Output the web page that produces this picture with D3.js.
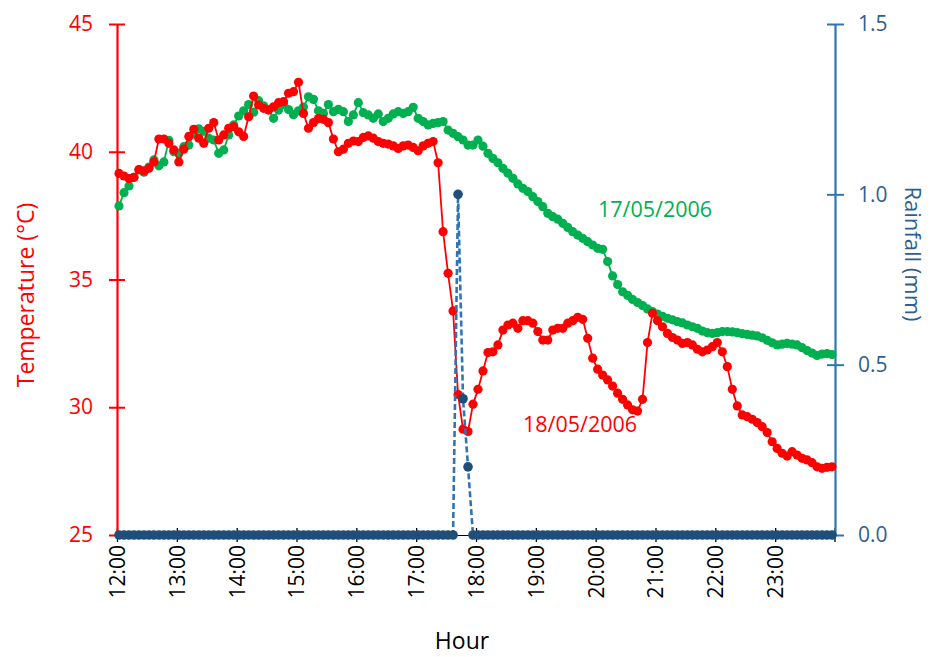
<!DOCTYPE html>
<html>
<head>
<meta charset="utf-8">
<script src="https://cdn.jsdelivr.net/npm/d3@7"></script>
<style>
  html, body { margin: 0; padding: 0; background: #fff; }
  svg { display: block; font-family: "Open Sans", "DejaVu Sans", sans-serif; }
</style>
</head>
<body>
<svg id="chart" width="930" height="657"></svg>
<script>
// Readings every 5 minutes, first reading at 12:02
const firstReadingMinute = 12 * 60 + 2;
const readingStepMinutes = 5;

const hourLabels = ["12:00","13:00","14:00","15:00","16:00","17:00","18:00","19:00","20:00","21:00","22:00","23:00"];
const tempTicks = [25, 30, 35, 40, 45];
const rainTicks = [0.0, 0.5, 1.0, 1.5];

// Air temperature, 17 May 2006 (°C)
const temp17 = [
  37.88, 38.40, 38.66, 39.00, 39.30, 39.20, 39.40, 39.68, 39.45, 39.60,
  40.45, 40.00, 39.94, 40.20, 40.26, 40.70, 40.90, 40.80, 40.53, 40.46,
  39.94, 40.07, 40.66, 41.05, 41.40, 41.60, 41.85, 41.55, 42.00, 41.80,
  41.65, 41.31, 41.63, 41.85, 41.65, 41.45, 41.60, 41.75, 42.15, 42.05,
  41.60, 41.50, 41.85, 41.57, 41.66, 41.57, 41.18, 41.44, 41.92, 41.53,
  41.44, 41.31, 41.48, 41.18, 41.31, 41.48, 41.57, 41.50, 41.57, 41.74,
  41.31, 41.18, 41.05, 41.11, 41.14, 41.18, 40.85, 40.72, 40.59, 40.46,
  40.26, 40.26, 40.46, 40.22, 39.94, 39.74, 39.57, 39.35, 39.16, 38.96,
  38.74, 38.57, 38.44, 38.24, 38.05, 37.85, 37.59, 37.46, 37.36, 37.20,
  37.04, 36.87, 36.74, 36.61, 36.48, 36.35, 36.22, 36.18, 35.70, 35.14,
  34.80, 34.52, 34.38, 34.22, 34.10, 33.98, 33.85, 33.74, 33.65, 33.56,
  33.48, 33.42, 33.35, 33.30, 33.22, 33.15, 33.09, 32.98, 32.92, 32.89,
  32.92, 32.96, 32.96, 32.95, 32.92, 32.88, 32.85, 32.82, 32.79, 32.72,
  32.62, 32.52, 32.44, 32.47, 32.50, 32.47, 32.44, 32.33, 32.22, 32.12,
  32.03, 32.08, 32.10, 32.06
];

// Air temperature, 18 May 2006 (°C)
const temp18 = [
  39.15, 39.05, 38.95, 39.00, 39.30, 39.25, 39.35, 39.60,
  40.50, 40.50, 40.33, 40.07, 39.60, 40.10, 40.60, 40.88, 40.53, 40.33,
  40.92, 41.14, 40.46, 40.66, 40.92, 40.98, 40.78, 40.60, 41.37, 42.18,
  41.83, 41.70, 41.63, 41.76, 41.92, 41.96, 42.29, 42.35, 42.72,
  41.50, 40.92, 41.14, 41.30, 41.27, 41.14, 40.50, 40.00, 40.10, 40.33,
  40.42, 40.40, 40.56, 40.62, 40.53, 40.40, 40.33, 40.30, 40.23, 40.13,
  40.23, 40.26, 40.17, 40.04, 40.23, 40.33, 40.40, 39.57, 36.87, 35.24,
  33.77, 30.50, 29.14, 29.05, 30.12, 30.70, 31.42, 32.14, 32.17, 32.44,
  33.02, 33.22, 33.29, 33.09, 33.39, 33.39, 33.29, 32.96, 32.63, 32.63,
  33.02, 33.09, 33.09, 33.29, 33.39, 33.52, 33.44, 32.70, 31.92, 31.49,
  31.26, 31.07, 30.83, 30.55, 30.31, 30.09, 29.90, 29.85, 30.31, 32.53,
  33.68,
  33.39, 33.15, 32.89, 32.73, 32.63, 32.50, 32.53, 32.44, 32.27, 32.17,
  32.24, 32.37, 32.53, 32.17, 31.59, 30.70, 30.05, 29.70, 29.63, 29.53,
  29.40, 29.24, 29.01, 28.65, 28.39, 28.20, 28.09, 28.26, 28.13, 28.00,
  27.94, 27.83, 27.67, 27.61, 27.65, 27.67
];

// Rainfall, 18 May 2006 (mm per 5 minutes), one row per hour
const rain18 = [
  0,0,0,0,0,0,0,0,0,0,0,0,
  0,0,0,0,0,0,0,0,0,0,0,0,
  0,0,0,0,0,0,0,0,0,0,0,0,
  0,0,0,0,0,0,0,0,0,0,0,0,
  0,0,0,0,0,0,0,0,0,0,0,0,
  0,0,0,0,0,0,0,0,1.0,0.4,0.2,0,
  0,0,0,0,0,0,0,0,0,0,0,0,
  0,0,0,0,0,0,0,0,0,0,0,0,
  0,0,0,0,0,0,0,0,0,0,0,0,
  0,0,0,0,0,0,0,0,0,0,0,0,
  0,0,0,0,0,0,0,0,0,0,0,0,
  0,0,0,0,0,0,0,0,0,0,0,0
];

const readingMinutes = temp18.map((_, i) => firstReadingMinute + i * readingStepMinutes);

const svg = d3.select("#chart");
const plotLeft = 117, plotRight = 835, plotTop = 24, plotBottom = 535;

const x = d3.scaleLinear().domain([12 * 60, 24 * 60]).range([plotLeft, plotRight]);
const yT = d3.scaleLinear().domain([25, 45]).range([plotBottom, plotTop]);
const yR = d3.scaleLinear().domain([0, 1.5]).range([plotBottom, plotTop]);

const RED = "#ff0000", GREEN = "#00b050", BLUE = "#2e75b6", NAVY = "#1f4e79";
const TEXT_BLUE = "#2f5f8f";

// X axis: hour ticks, labels rotated
const xAxis = d3.axisBottom(x)
  .tickValues(hourLabels.map(h => +h.split(":")[0] * 60))
  .tickFormat((d, i) => hourLabels[i])
  .tickSizeInner(6).tickSizeOuter(0);
const gx = svg.append("g").attr("transform", `translate(0,${plotBottom})`).call(xAxis);
gx.select(".domain").attr("stroke", "#000").attr("stroke-width", 1.2);
gx.selectAll(".tick line").attr("stroke", "#000").attr("stroke-width", 1.3).attr("y1", -7).attr("y2", 7);
gx.selectAll(".tick text")
  .attr("transform", "rotate(-90)")
  .attr("x", -10).attr("y", 0).attr("dy", "0.35em")
  .attr("text-anchor", "end")
  .attr("font-size", 21).attr("font-family", "Open Sans").attr("fill", "#000");
// closing tick at 24:00
gx.append("line").attr("x1", x(24 * 60)).attr("x2", x(24 * 60)).attr("y1", -7).attr("y2", 7)
  .attr("stroke", "#000").attr("stroke-width", 1.3);

// Left axis: temperature
const yAxisL = d3.axisLeft(yT).tickValues(tempTicks).tickSizeInner(8).tickSizeOuter(0).tickFormat(d3.format("d"));
const gl = svg.append("g").attr("transform", `translate(${plotLeft},0)`).call(yAxisL);
gl.select(".domain").attr("stroke", RED).attr("stroke-width", 2.2);
gl.selectAll(".tick line").attr("stroke", RED).attr("stroke-width", 2).attr("x1", 8).attr("x2", -8);
gl.selectAll(".tick text").attr("x", -24).attr("font-size", 21).attr("font-family", "Open Sans").attr("fill", RED);

// Right axis: rainfall
const yAxisR = d3.axisRight(yR).tickValues(rainTicks).tickSizeInner(8).tickSizeOuter(0).tickFormat(d3.format(".1f"));
const gr = svg.append("g").attr("transform", `translate(${plotRight},0)`).call(yAxisR);
gr.select(".domain").attr("stroke", BLUE).attr("stroke-width", 2.2);
gr.selectAll(".tick line").attr("stroke", BLUE).attr("stroke-width", 2).attr("x1", -8).attr("x2", 9);
gr.selectAll(".tick text").attr("x", 23).attr("font-size", 21).attr("font-family", "Open Sans").attr("fill", TEXT_BLUE);

// Axis titles
svg.append("text").attr("transform", "translate(34,295) rotate(-90)")
  .attr("text-anchor", "middle").attr("font-size", 23).attr("fill", RED).text("Temperature (°C)");
svg.append("text").attr("transform", "translate(905,254) rotate(90)")
  .attr("text-anchor", "middle").attr("font-size", 22).attr("fill", TEXT_BLUE).text("Rainfall (mm)");
svg.append("text").attr("x", 462).attr("y", 649)
  .attr("text-anchor", "middle").attr("font-size", 23).attr("fill", "#000").text("Hour");

// Series drawing helper
function drawSeries(values, yScale, color, dotColor, r, width, dash) {
  const pts = values.map((v, i) => [x(readingMinutes[i]), yScale(v)]);
  const g = svg.append("g");
  g.append("path")
    .attr("d", d3.line()(pts))
    .attr("fill", "none").attr("stroke", color).attr("stroke-width", width)
    .attr("stroke-dasharray", dash || null);
  g.selectAll("circle").data(pts).join("circle")
    .attr("cx", d => d[0]).attr("cy", d => d[1]).attr("r", r).attr("fill", dotColor);
}

drawSeries(temp17, yT, GREEN, GREEN, 4.6, 1.8);
drawSeries(temp18, yT, RED, RED, 4.6, 1.8);
drawSeries(rain18, yR, BLUE, NAVY, 4.8, 2.6, "6,3");

// Series labels
svg.append("text").attr("x", 598).attr("y", 217).attr("font-size", 21.5).attr("fill", GREEN).text("17/05/2006");
svg.append("text").attr("x", 523).attr("y", 432).attr("font-size", 21.5).attr("fill", RED).text("18/05/2006");
</script>
</body>
</html>
